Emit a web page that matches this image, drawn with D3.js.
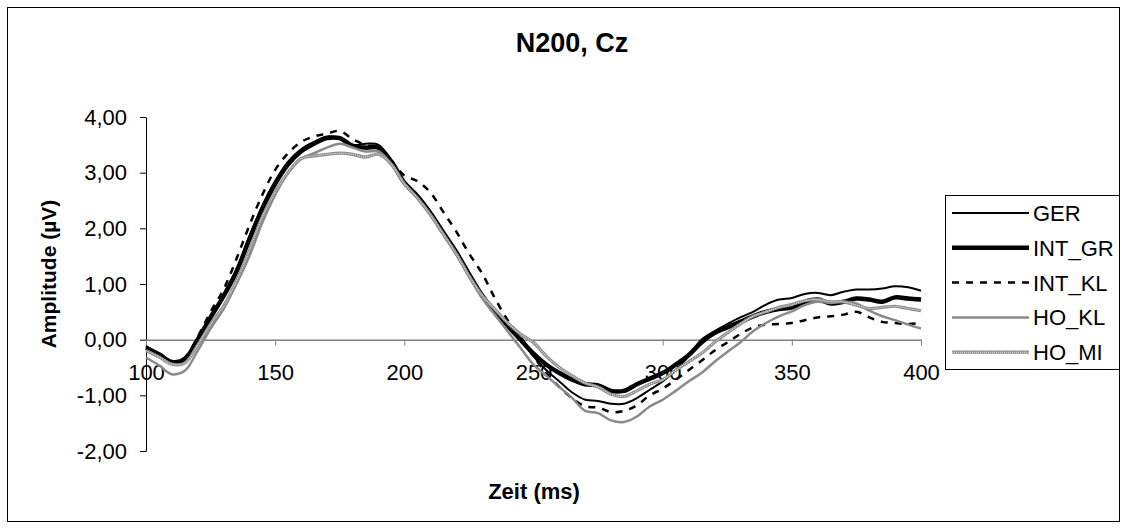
<!DOCTYPE html>
<html>
<head>
<meta charset="utf-8">
<script src="https://cdn.jsdelivr.net/npm/d3@7"></script>
<style>
  body { margin: 0; background: #fff; }
  svg text { font-family: "Liberation Sans", Arial, sans-serif; }
</style>
</head>
<body>
<div id="mydraw"></div>
<script>
// ---------------
// data (amplitude in µV, every 5 ms from 100 to 400)
var times = d3.range(100, 401, 5);

var ger = [-0.12,-0.26,-0.42,-0.36,0.00,0.40,0.80,1.25,1.85,2.40,2.85,3.20,3.42,3.55,3.65,3.62,3.50,3.52,3.50,3.20,
           2.82,2.58,2.28,1.93,1.58,1.18,0.80,0.50,0.25,0.00,-0.30,-0.55,-0.75,-0.95,-1.08,-1.10,-1.15,-1.15,-1.05,-0.90,
           -0.75,-0.55,-0.30,0.00,0.15,0.28,0.40,0.50,0.63,0.72,0.75,0.82,0.84,0.80,0.86,0.90,0.90,0.92,0.96,0.94,0.88];
var intGr = [-0.15,-0.26,-0.40,-0.35,0.00,0.40,0.78,1.22,1.80,2.35,2.80,3.15,3.38,3.52,3.62,3.62,3.48,3.45,3.45,3.20,
           2.82,2.58,2.28,1.93,1.58,1.18,0.80,0.50,0.25,0.00,-0.25,-0.45,-0.60,-0.72,-0.80,-0.82,-0.92,-0.92,-0.80,-0.70,
           -0.60,-0.45,-0.28,-0.05,0.12,0.22,0.32,0.42,0.50,0.55,0.58,0.68,0.72,0.65,0.68,0.74,0.72,0.68,0.76,0.74,0.72];
var intKl = [-0.12,-0.26,-0.40,-0.32,0.05,0.50,0.90,1.45,2.05,2.60,3.05,3.35,3.55,3.65,3.70,3.75,3.60,3.50,3.45,3.20,
           2.95,2.85,2.65,2.30,1.95,1.55,1.20,0.75,0.35,0.05,-0.30,-0.60,-0.85,-1.05,-1.20,-1.22,-1.30,-1.28,-1.18,-1.00,
           -0.88,-0.72,-0.55,-0.38,-0.20,-0.05,0.10,0.22,0.27,0.28,0.30,0.35,0.40,0.42,0.45,0.50,0.40,0.32,0.30,0.28,0.30];
var hoKl = [-0.32,-0.46,-0.62,-0.56,-0.20,0.20,0.55,1.00,1.50,2.10,2.60,3.00,3.25,3.35,3.45,3.52,3.45,3.38,3.38,3.15,
           2.80,2.55,2.25,1.90,1.55,1.15,0.75,0.45,0.15,-0.15,-0.45,-0.65,-0.85,-1.05,-1.28,-1.32,-1.45,-1.48,-1.38,-1.20,
           -1.08,-0.92,-0.75,-0.60,-0.40,-0.22,-0.05,0.15,0.30,0.42,0.51,0.62,0.68,0.66,0.68,0.65,0.52,0.42,0.35,0.27,0.20];
var hoMi = [-0.20,-0.31,-0.44,-0.42,-0.10,0.28,0.60,1.05,1.60,2.20,2.65,3.00,3.25,3.30,3.33,3.35,3.33,3.28,3.33,3.15,
           2.80,2.55,2.25,1.90,1.55,1.15,0.80,0.55,0.30,0.10,-0.05,-0.30,-0.50,-0.65,-0.78,-0.85,-0.98,-1.02,-0.92,-0.80,
           -0.72,-0.55,-0.40,-0.25,-0.05,0.12,0.28,0.42,0.50,0.58,0.63,0.70,0.72,0.68,0.68,0.62,0.56,0.58,0.60,0.56,0.52];

var seriesNames = ["GER", "INT_GR", "INT_KL", "HO_KL", "HO_MI"];
var seriesValues = [ger, intGr, intKl, hoKl, hoMi];

var xTicks = [100, 150, 200, 250, 300, 350, 400];
var yTicks = [-2, -1, 0, 1, 2, 3, 4];

// ---------------
// line styles per series
var styles = {
    "GER":    [{stroke: "#000", width: 2}],
    "INT_GR": [{stroke: "#000", width: 4.5}],
    "INT_KL": [{stroke: "#000", width: 2.5, dash: "7,7"}],
    "HO_KL":  [{stroke: "#8a8a8a", width: 2.5}],
    "HO_MI":  [{stroke: "#8c8c8c", width: 3.2}, {stroke: "#e6e6e6", width: 1.1, dash: "1,1"}]
};

var W = 1128, H = 529;

var svg = d3.select("div#mydraw").append("svg")
    .attr("width", W)
    .attr("height", H);

// outer frame
svg.append("rect")
    .attr("x", 7.5).attr("y", 7.5)
    .attr("width", 1112).attr("height", 514)
    .attr("fill", "#fff")
    .attr("stroke", "#000")
    .attr("stroke-width", 1);

var x = d3.scaleLinear().domain([100, 400]).range([146, 921]);
var y = d3.scaleLinear().domain([-2, 4]).range([451, 117]);

var comma = function(d) { return d3.format(".2f")(d).replace(".", ",").replace("−", "-"); };

// y axis
var yAxis = svg.append("g")
    .attr("transform", "translate(146,0)")
    .call(d3.axisLeft(y).tickValues(yTicks).tickFormat(comma).tickSize(6).tickSizeOuter(0).tickPadding(13));
yAxis.selectAll("text").attr("font-size", 22).attr("fill", "#000").attr("font-family", null);
yAxis.select(".domain").attr("stroke", "#000");

// x axis through zero
var xAxis = svg.append("g")
    .attr("transform", "translate(0," + y(0) + ")")
    .call(d3.axisBottom(x).tickValues(xTicks).tickSize(6).tickSizeOuter(0));
xAxis.select(".domain").attr("stroke", "#808080").attr("stroke-width", 1.5);
xAxis.selectAll(".tick line").attr("stroke", "#808080");
xAxis.selectAll("text")
    .attr("font-size", 22).attr("fill", "#000").attr("font-family", null)
    .attr("y", 40).attr("dy", null);

// lines
var line = d3.line()
    .x(function(d) { return x(d[0]); })
    .y(function(d) { return y(d[1]); })
    .curve(d3.curveCatmullRom);

seriesNames.forEach(function(name, i) {
    var pts = times.map(function(t, j) { return [t, seriesValues[i][j]]; });
    styles[name].forEach(function(s) {
        svg.append("path")
            .datum(pts)
            .attr("d", line)
            .attr("fill", "none")
            .attr("stroke", s.stroke)
            .attr("stroke-width", s.width)
            .attr("stroke-dasharray", s.dash || null)
            .attr("stroke-linejoin", "round");
    });
});

// title + axis titles
svg.append("text")
    .attr("x", 572).attr("y", 52)
    .attr("text-anchor", "middle")
    .attr("font-size", 27).attr("font-weight", "bold")
    .text("N200, Cz");

svg.append("text")
    .attr("x", 534).attr("y", 499)
    .attr("text-anchor", "middle")
    .attr("font-size", 22).attr("font-weight", "bold")
    .text("Zeit (ms)");

svg.append("text")
    .attr("transform", "translate(56,274) rotate(-90)")
    .attr("text-anchor", "middle")
    .attr("font-size", 21).attr("font-weight", "bold")
    .text("Amplitude (µV)");

// legend
var leg = svg.append("g");
leg.append("rect")
    .attr("x", 945.5).attr("y", 195.5)
    .attr("width", 174).attr("height", 174)
    .attr("fill", "#fff").attr("stroke", "#000");

seriesNames.forEach(function(name, i) {
    var ly = 213 + i * 34.8;
    styles[name].forEach(function(s) {
        leg.append("line")
            .attr("x1", 952).attr("x2", 1029)
            .attr("y1", ly).attr("y2", ly)
            .attr("stroke", s.stroke)
            .attr("stroke-width", s.width)
            .attr("stroke-dasharray", s.dash || null);
    });
    leg.append("text")
        .attr("x", 1033).attr("y", ly + 8)
        .attr("font-size", 22)
        .text(name);
});
</script>
</body>
</html>
